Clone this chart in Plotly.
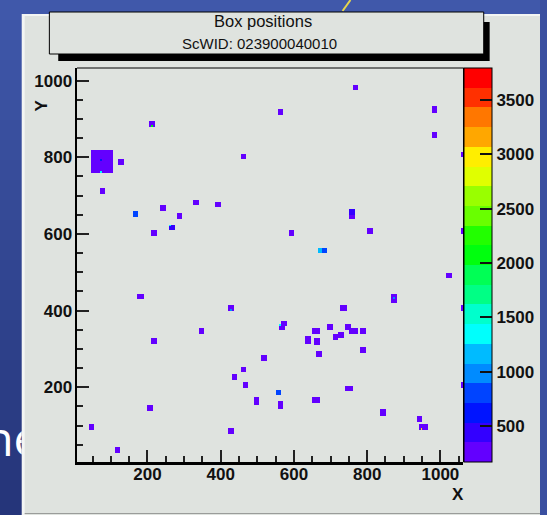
import colorsys
import numpy as np
import plotly.graph_objects as go

W, H = 547, 515

# ---------------- data ----------------
title_lines = ["Box positions", "ScWID: 023900040010"]
x_title = "X"
y_title = "Y"

x_range = [9, 1063]
y_range = [5, 1033]
z_range = [170, 3795]
n_levels = 20
x_tick_step = 200
y_tick_step = 200
z_ticks = [500, 1000, 1500, 2000, 2500, 3000, 3500]

CELL = 5    # histogram cell size (data units)
BOX = 15    # size of one filled box (data units)

box_x = [212, 130, 464, 79, 332, 393, 168, 242, 289, 266, 215, 766, 561, 981, 981,
         981, 1061, 757, 757, 593, 809, 672, 683, 1061, 176, 181, 427, 349, 216, 518,
         463, 439, 467, 495, 495, 205, 425, 50, 116, 1023, 871, 871, 733, 739, 1061,
         565, 574, 696, 747, 658, 664, 757, 765, 790, 635, 635, 664, 664, 711, 730,
         668, 790, 556, 561, 561, 747, 753, 658, 664, 841, 841, 944, 949, 955, 1061]
box_y = [885, 789, 802, 711, 684, 679, 653, 666, 645, 620, 604, 981, 920, 923, 929,
         857, 810, 650, 656, 604, 607, 558, 558, 607, 440, 440, 405, 346, 323, 278,
         250, 229, 210, 164, 170, 150, 90, 95, 35, 491, 430, 436, 409, 409, 409,
         360, 366, 359, 359, 346, 346, 349, 346, 346, 322, 328, 318, 324, 332, 336,
         288, 298, 189, 154, 160, 200, 200, 170, 170, 132, 138, 119, 97, 97, 207]
box_z = [260, 260, 260, 260, 260, 260, 800, 260, 260, 450, 260, 260, 260, 260, 260,
         260, 260, 260, 450, 260, 260, 1150, 800, 260, 260, 260, 260, 260, 260, 260,
         260, 260, 260, 260, 260, 260, 260, 260, 260, 260, 260, 260, 260, 260, 260,
         260, 260, 260, 260, 260, 260, 260, 260, 260, 260, 260, 260, 260, 260, 260,
         260, 260, 800, 260, 260, 260, 260, 260, 260, 260, 260, 260, 260, 260, 260]

cluster_x = [75]
cluster_y = [792]
cluster_size = [60]
cluster_z = [260]

hot_x = [73, 73, 210, 427, 870, 561, 947, 265]
hot_y = [791, 764, 884, 405, 431, 362, 95, 620]
hot_z = [700, 1300, 2100, 1000, 1000, 1300, 3000, 1300]

# ---------------- build the histogram grid ----------------
nx = int(np.ceil(1075 / CELL))
ny = int(np.ceil(1045 / CELL))
grid = np.full((ny, nx), np.nan)


def paint(cx, cy, size, val):
    n = max(1, int(round(size / CELL)))
    i0 = int(round((cx - size / 2) / CELL))
    j0 = int(round((cy - size / 2) / CELL))
    grid[max(j0, 0):j0 + n, max(i0, 0):i0 + n] = val


for cx, cy, s, v in zip(cluster_x, cluster_y, cluster_size, cluster_z):
    paint(cx, cy, s, v)
for cx, cy, v in zip(box_x, box_y, box_z):
    paint(cx, cy, BOX, v)
for cx, cy, v in zip(hot_x, hot_y, hot_z):
    paint(cx, cy, CELL, v)

zlist = [[None if np.isnan(v) else float(v) for v in row] for row in grid]

# ROOT "pretty" palette (HLS, hue 280 -> 0), 20 contour levels
pal = []
for i in range(50):
    hue = 280 - (i + 1) * (280 / 50)
    r, g, b = colorsys.hls_to_rgb(hue / 360.0, 0.5, 1.0)
    pal.append("#%02x%02x%02x" % (int(round(r * 255)), int(round(g * 255)), int(round(b * 255))))
level_colors = [pal[int((k + 0.99) * 50 / n_levels)] for k in range(n_levels)]
colorscale = []
for k, c in enumerate(level_colors):
    colorscale.append([k / n_levels, c])
    colorscale.append([(k + 1) / n_levels, c])


def PX(x):
    return x / W


def PY(y):
    return 1 - y / H


CANVAS = "#dfe3df"
BOLD = dict(family="Liberation Sans", size=17, color="#111111", weight="bold")

fig = go.Figure()
fig.add_trace(go.Heatmap(
    z=zlist, x0=CELL / 2, dx=CELL, y0=CELL / 2, dy=CELL,
    zmin=z_range[0], zmax=z_range[1], colorscale=colorscale, zsmooth=False,
    hoverinfo="skip",
    colorbar=dict(
        thickness=28, thicknessmode="pixels", len=394, lenmode="pixels",
        x=PX(470), xanchor="left", y=PY(68), yanchor="top", xpad=0, ypad=0,
        outlinewidth=1, outlinecolor="black", borderwidth=0,
        ticks="inside", ticklen=12, tickwidth=1.5, tickcolor="#111111",
        tickmode="array", tickvals=z_ticks, tickfont=BOLD,
    ),
))

# clipped slide text peeking out on the left
fig.add_trace(go.Scatter(
    x=[12.5], y=[444], mode="text", text=["ne"], textposition="middle center",
    textfont=dict(family="Open Sans", size=48, color="white"),
    cliponaxis=True, hoverinfo="skip", showlegend=False, xaxis="x2", yaxis="y2",
))

shapes = []
# blue slide background gradient
top = np.array([0x40, 0x58, 0xaa])
bot = np.array([0x25, 0x35, 0x7a])
nstr = 26
for k in range(nstr):
    c = top + (bot - top) * k / (nstr - 1)
    shapes.append(dict(type="rect", xref="paper", yref="paper", layer="below",
                       x0=0, x1=1, y0=PY(k * 20 + 20.5), y1=PY(k * 20),
                       fillcolor="rgb(%d,%d,%d)" % tuple(c), line=dict(width=0)))
shapes.append(dict(type="line", xref="paper", yref="paper", layer="below",
                   x0=PX(355), y0=PY(0), x1=PX(347), y1=PY(11),
                   line=dict(color="#e6d64c", width=2)))
# ROOT canvas
shapes.append(dict(type="rect", xref="paper", yref="paper", layer="below",
                   x0=PX(22), x1=1, y0=0, y1=PY(14), fillcolor="#f3f5f3", line=dict(width=0)))
shapes.append(dict(type="rect", xref="paper", yref="paper", layer="below",
                   x0=PX(25), x1=1, y0=0, y1=PY(16), fillcolor=CANVAS, line=dict(width=0)))
shapes.append(dict(type="line", xref="paper", yref="paper", layer="below",
                   x0=PX(25), x1=1, y0=PY(513.5), y1=PY(513.5), line=dict(color="#9a9c9a", width=1)))
# title pave with shadow
shapes.append(dict(type="rect", xref="paper", yref="paper", layer="below",
                   x0=PX(59), x1=PX(496), y0=PY(61), y1=PY(22), fillcolor="black", line=dict(width=0)))
shapes.append(dict(type="rect", xref="paper", yref="paper", layer="below",
                   x0=PX(50), x1=PX(490), y0=PY(54), y1=PY(12), fillcolor=CANVAS,
                   line=dict(color="black", width=1)))
# thin top / right frame
shapes.append(dict(type="line", xref="paper", yref="paper", layer="above",
                   x0=PX(78), x1=PX(469.5), y0=PY(68), y1=PY(68), line=dict(color="black", width=1)))
shapes.append(dict(type="line", xref="paper", yref="paper", layer="above",
                   x0=PX(469.5), x1=PX(469.5), y0=PY(68), y1=PY(462), line=dict(color="black", width=1)))

annotations = [
    dict(text=title_lines[0], x=PX(266), y=PY(21), xref="paper", yref="paper", showarrow=False,
         xanchor="center", yanchor="middle", font=dict(family="Liberation Sans", size=16.5, color="#111111")),
    dict(text=title_lines[1], x=PX(263), y=PY(43), xref="paper", yref="paper", showarrow=False,
         xanchor="center", yanchor="middle", font=dict(family="Liberation Sans", size=15, color="#111111")),
    dict(text=y_title, x=PX(42), y=PY(105), xref="paper", yref="paper", showarrow=False,
         textangle=-90, xanchor="center", yanchor="middle", font=BOLD),
    dict(text=x_title, x=PX(464), y=PY(494), xref="paper", yref="paper", showarrow=False,
         xanchor="center", yanchor="middle", font=BOLD),
]

axis_common = dict(
    showgrid=False, zeroline=False, showline=True, linecolor="black",
    ticks="inside", ticklen=12, tickwidth=2, tickcolor="#222222",
    tickmode="linear", tick0=0, tickfont=BOLD, fixedrange=True, automargin=False,
    minor=dict(tickmode="linear", tick0=0, dtick=50, ticks="inside", ticklen=6,
               tickwidth=2, tickcolor="#222222", showgrid=False),
)

fig.update_layout(
    width=W, height=H, autosize=False,
    margin=dict(l=0, r=0, t=0, b=0, pad=0),
    paper_bgcolor="#3a4fa0", plot_bgcolor="rgba(0,0,0,0)",
    showlegend=False,
    xaxis=dict(domain=[PX(78.5), PX(469.5)], range=x_range, dtick=x_tick_step,
               linewidth=3, anchor="y", ticklabelstandoff=-5, **axis_common),
    yaxis=dict(domain=[PY(462), PY(68)], range=y_range, dtick=y_tick_step,
               linewidth=2, anchor="x", **axis_common),
    xaxis2=dict(domain=[0, PX(22)], range=[0, 22], visible=False, anchor="y2", fixedrange=True),
    yaxis2=dict(domain=[PY(480), PY(400)], range=[480, 400], visible=False, anchor="x2", fixedrange=True),
    shapes=shapes, annotations=annotations,
)

fig.write_html(
    "out.html",
    config={"displayModeBar": False},
    post_script="document.body.style.margin='0px';document.body.style.padding='0px';",
)
